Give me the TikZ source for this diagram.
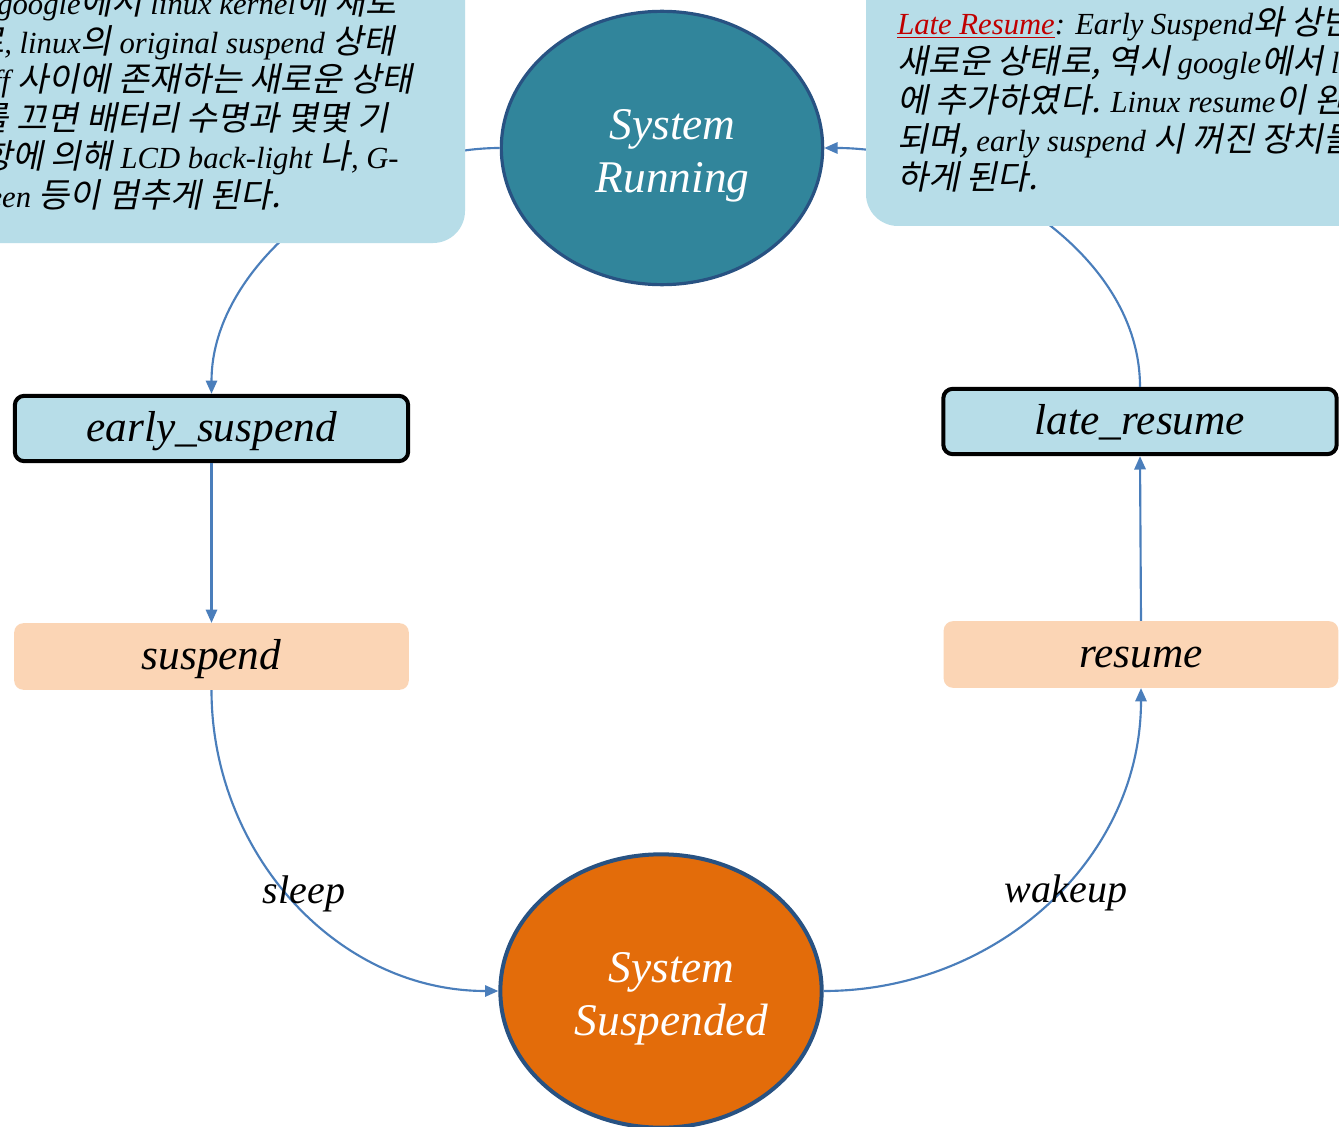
\documentclass[tikz,border=0pt]{standalone}
\usepackage{fontspec}
\setmainfont{Liberation Serif}
\newfontfamily\krfont{Noto Sans CJK KR}[FakeSlant=0.2,Scale=1.1]
\newcommand\ko[1]{{\krfont #1}}
\usetikzlibrary{shapes.geometric,arrows.meta}
\definecolor{calloutblue}{RGB}{183,221,232}
\definecolor{peach}{RGB}{251,213,181}
\definecolor{flowblue}{RGB}{74,126,187}
\definecolor{runfill}{RGB}{49,133,155}
\definecolor{susfill}{RGB}{227,108,10}
\definecolor{rimblue}{RGB}{40,82,130}
\definecolor{latered}{RGB}{192,0,0}

\begin{document}
\begin{tikzpicture}[x=0.75pt,y=-0.75pt,
  state/.style={ellipse, draw=rimblue, line width=2.4pt, minimum width=241pt,
    minimum height=205pt, inner sep=0pt},
  statetext/.style={text=white, align=center, inner sep=0pt,
    font=\itshape\fontsize{34}{40}\selectfont},
  hookbox/.style={rectangle, rounded corners=7pt, draw=black, line width=3pt,
    fill=calloutblue, minimum width=295pt, minimum height=49pt, inner sep=0pt,
    text height=23pt, text depth=3pt, font=\itshape\fontsize{32.5}{38}\selectfont},
  phasebox/.style={rectangle, rounded corners=7pt, fill=peach,
    minimum width=296pt, minimum height=50pt, inner sep=0pt,
    text height=23pt, text depth=3pt, font=\itshape\fontsize{32.5}{38}\selectfont},
  flow/.style={draw=flowblue, line width=1.6pt, -{Triangle[length=10pt,width=8.5pt]}},
  note/.style={fill=calloutblue, rounded corners=24pt},
  noteline/.style={anchor=base west, inner sep=0pt,
    font=\itshape\fontsize{23}{28}\selectfont},
  edgelabel/.style={anchor=base, inner sep=0pt,
    font=\itshape\fontsize{30}{34}\selectfont}
]
\useasboundingbox (0,0) rectangle (1339,1127);
\clip (0,0) rectangle (1339,1127);
\fill[white] (0,0) rectangle (1339,1127);

% states
\node[state, fill=runfill] (running) at (662,148) {};
\node[statetext] (runningtext) at ([xshift=8pt,yshift=-6pt]running.center) {System\\Running};
\node[state, fill=susfill, line width=3pt] (suspended) at (661,991) {};
\node[statetext] (suspendedtext) at ([xshift=8pt,yshift=-6pt]suspended.center) {System\\Suspended};

% hook and phase boxes
\node[hookbox] (early) at (211.5,428.5) {early\_suspend};
\node[phasebox] (suspend) at (211.5,656.5) {suspend};
\node[hookbox] (late) at (1140,421.5) {late\_resume};
\node[phasebox] (resume) at (1141,654.5) {resume};

% connectors that pass behind the notes
\draw[flow] (running.west) to[out=180,in=90,looseness=0.9] (early.north);
\draw[flow] (late.north) to[out=90,in=0,looseness=0.9] (running.east);

% notes
\path[note] (-60,-60) rectangle (465,243);
\path[note] (866,-60) rectangle (1400,226);

\node[noteline] (e1) at (-3,15) {google\ko{에서} linux kernel\ko{에 새로}};
\node[noteline] (e2) at (-27,53.5) {\ko{로}, linux\ko{의} original suspend \ko{상태}};
\node[noteline] (e3) at (-62,92) {on/off\ko{ 사이에 존재하는 새로운 상태}};
\node[noteline] (e4) at (-82,130.5) {LCD\ko{를 끄면 배터리 수명과 몇몇 기}};
\node[noteline] (e5) at (-50,169) {\ko{사항에 의해} LCD back-light \ko{나}, G-};
\node[noteline] (e6) at (-48,207.5) {screen \ko{등이 멈추게 된다.}};

\node[noteline] (l1) at (897,35) {{\color{latered}\underline{Late Resume}}: Early Suspend\ko{와 상반}};
\node[noteline] (l2) at (897,74) {\ko{새로운 상태로, 역시} google\ko{에서} linux};
\node[noteline] (l3) at (897,113) {\ko{에 추가하였다.} Linux resume\ko{이 완료}};
\node[noteline] (l4) at (897,152) {\ko{되며,} early suspend \ko{시 꺼진 장치들}};
\node[noteline] (l5) at (897,190) {\ko{하게 된다.}};

% remaining connectors
\draw[flow] (early.south) -- (suspend.north);
\draw[flow] (suspend.south) to[out=-90,in=180] (suspended.west);
\draw[flow] (suspended.east) to[out=0,in=-90] (resume.south);
\draw[flow] (resume.north) -- (late.south);

\node[edgelabel] (sleep) at (304,903) {sleep};
\node[edgelabel] (wakeup) at (1066,902) {wakeup};
\end{tikzpicture}
\end{document}
